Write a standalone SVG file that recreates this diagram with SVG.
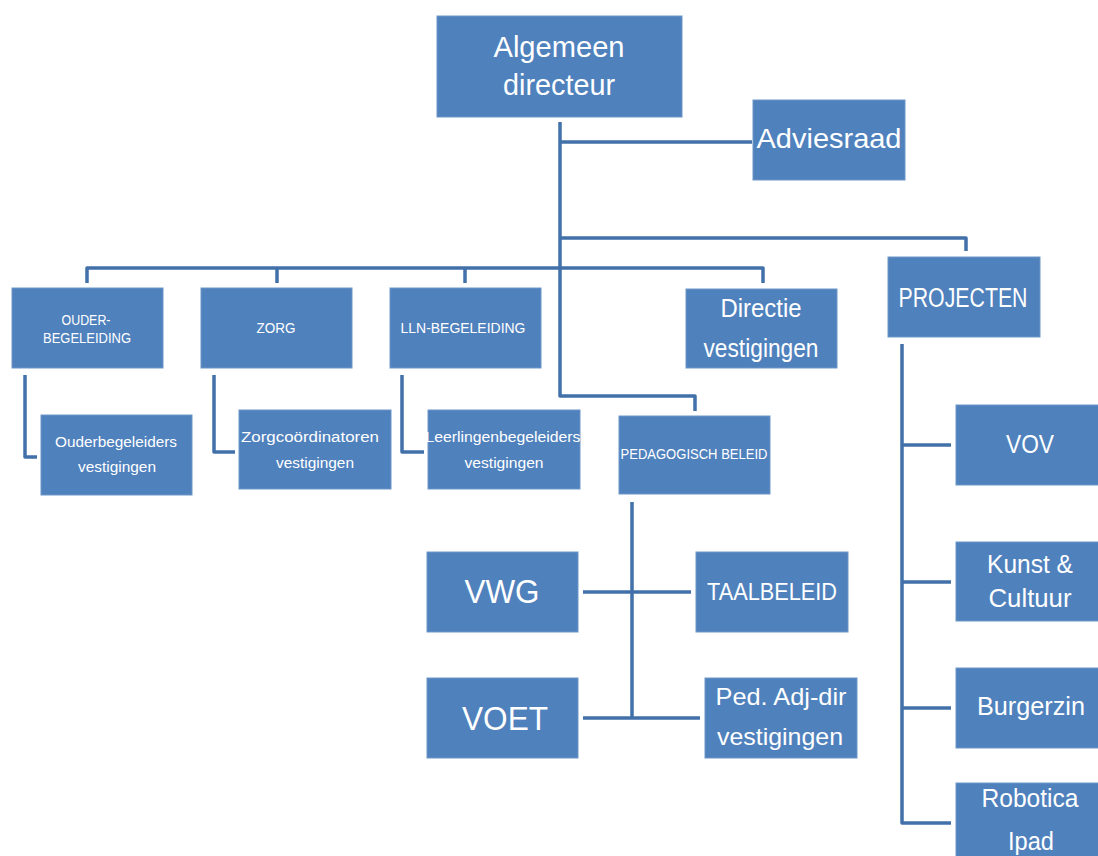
<svg xmlns="http://www.w3.org/2000/svg" width="1098" height="856" viewBox="0 0 1098 856">
<style>
.box{fill:#4f81bd;stroke:#6d95c7;stroke-width:1}
.t{fill:#ffffff;font-family:"Liberation Sans",Arial,sans-serif;text-anchor:middle}
.c{fill:none;stroke:#4271aa;stroke-width:3.5;stroke-linejoin:round}
</style>
<rect width="1098" height="856" fill="#ffffff"/>
<g id="connectors">
<path class="c" d="M560,122 V396 H695 V411"/>
<path class="c" d="M560,142 H752"/>
<path class="c" d="M560,238 H966 V251"/>
<path class="c" d="M87,283 V268 H763 V283"/>
<path class="c" d="M277,268 V283"/>
<path class="c" d="M465,268 V283"/>
<path class="c" d="M25,375 V457 H37"/>
<path class="c" d="M214,375 V452 H235"/>
<path class="c" d="M402,375 V452 H424"/>
<path class="c" d="M632,502 V718"/>
<path class="c" d="M583,592 H691"/>
<path class="c" d="M583,718 H700"/>
<path class="c" d="M902,344 V823 H951"/>
<path class="c" d="M902,445 H951"/>
<path class="c" d="M902,582 H951"/>
<path class="c" d="M902,708 H951"/>
</g>
<g id="algemeen-directeur">
<rect class="box" x="437" y="16" width="245" height="101"/>
<text class="t" x="559" y="57" font-size="29" textLength="131" lengthAdjust="spacingAndGlyphs">Algemeen</text>
<text class="t" x="559" y="95" font-size="29" textLength="112" lengthAdjust="spacingAndGlyphs">directeur</text>
</g>
<g id="adviesraad">
<rect class="box" x="753" y="100" width="152" height="80"/>
<text class="t" x="829" y="148" font-size="28" textLength="145" lengthAdjust="spacingAndGlyphs">Adviesraad</text>
</g>
<g id="ouder-begeleiding">
<rect class="box" x="12" y="288" width="151" height="80"/>
<text class="t" x="86" y="325" font-size="15" textLength="49" lengthAdjust="spacingAndGlyphs">OUDER-</text>
<text class="t" x="87" y="343" font-size="15" textLength="88" lengthAdjust="spacingAndGlyphs">BEGELEIDING</text>
</g>
<g id="zorg">
<rect class="box" x="201" y="288" width="151" height="80"/>
<text class="t" x="276" y="333" font-size="15" textLength="39" lengthAdjust="spacingAndGlyphs">ZORG</text>
</g>
<g id="lln-begeleiding">
<rect class="box" x="390" y="288" width="151" height="80"/>
<text class="t" x="463" y="333" font-size="15" textLength="125" lengthAdjust="spacingAndGlyphs">LLN-BEGELEIDING</text>
</g>
<g id="directie-vestigingen">
<rect class="box" x="686" y="289" width="151" height="79"/>
<text class="t" x="761" y="317" font-size="26" textLength="81" lengthAdjust="spacingAndGlyphs">Directie</text>
<text class="t" x="761" y="357" font-size="26" textLength="115" lengthAdjust="spacingAndGlyphs">vestigingen</text>
</g>
<g id="projecten">
<rect class="box" x="888" y="257" width="152" height="80"/>
<text class="t" x="963" y="307" font-size="27" textLength="129" lengthAdjust="spacingAndGlyphs">PROJECTEN</text>
</g>
<g id="ouderbegeleiders-vestigingen">
<rect class="box" x="41" y="415" width="151" height="80"/>
<text class="t" x="116" y="447" font-size="15" textLength="122" lengthAdjust="spacingAndGlyphs">Ouderbegeleiders</text>
<text class="t" x="117" y="472" font-size="15" textLength="78" lengthAdjust="spacingAndGlyphs">vestigingen</text>
</g>
<g id="zorgcoordinatoren-vestigingen">
<rect class="box" x="239" y="410" width="152" height="79"/>
<text class="t" x="310" y="442" font-size="15.5" textLength="138" lengthAdjust="spacingAndGlyphs">Zorgcoördinatoren</text>
<text class="t" x="315" y="468" font-size="15.5" textLength="78" lengthAdjust="spacingAndGlyphs">vestigingen</text>
</g>
<g id="leerlingenbegeleiders-vestigingen">
<rect class="box" x="428" y="410" width="152" height="79"/>
<text class="t" x="503" y="442" font-size="15.5" textLength="155" lengthAdjust="spacingAndGlyphs">Leerlingenbegeleiders</text>
<text class="t" x="504" y="468" font-size="15.5" textLength="79" lengthAdjust="spacingAndGlyphs">vestigingen</text>
</g>
<g id="pedagogisch-beleid">
<rect class="box" x="619" y="416" width="151" height="78"/>
<text class="t" x="694" y="459" font-size="14" textLength="147" lengthAdjust="spacingAndGlyphs">PEDAGOGISCH BELEID</text>
</g>
<g id="vwg">
<rect class="box" x="427" y="552" width="151" height="80"/>
<text class="t" x="502" y="603" font-size="34" textLength="75" lengthAdjust="spacingAndGlyphs">VWG</text>
</g>
<g id="taalbeleid">
<rect class="box" x="696" y="552" width="152" height="80"/>
<text class="t" x="772" y="600" font-size="24" textLength="130" lengthAdjust="spacingAndGlyphs">TAALBELEID</text>
</g>
<g id="voet">
<rect class="box" x="427" y="678" width="151" height="80"/>
<text class="t" x="505" y="730" font-size="34" textLength="86" lengthAdjust="spacingAndGlyphs">VOET</text>
</g>
<g id="ped-adj-dir-vestigingen">
<rect class="box" x="705" y="678" width="152" height="80"/>
<text class="t" x="781" y="705" font-size="24" textLength="131" lengthAdjust="spacingAndGlyphs">Ped. Adj-dir</text>
<text class="t" x="780" y="745" font-size="24" textLength="126" lengthAdjust="spacingAndGlyphs">vestigingen</text>
</g>
<g id="vov">
<rect class="box" x="956" y="405" width="150" height="80"/>
<text class="t" x="1030" y="453" font-size="25" textLength="48" lengthAdjust="spacingAndGlyphs">VOV</text>
</g>
<g id="kunst-cultuur">
<rect class="box" x="956" y="542" width="150" height="79"/>
<text class="t" x="1030" y="573" font-size="25" textLength="86" lengthAdjust="spacingAndGlyphs">Kunst &amp;</text>
<text class="t" x="1030" y="607" font-size="25" textLength="83" lengthAdjust="spacingAndGlyphs">Cultuur</text>
</g>
<g id="burgerzin">
<rect class="box" x="956" y="668" width="150" height="80"/>
<text class="t" x="1031" y="715" font-size="25" textLength="108" lengthAdjust="spacingAndGlyphs">Burgerzin</text>
</g>
<g id="robotica-ipad">
<rect class="box" x="956" y="783" width="150" height="90"/>
<text class="t" x="1030" y="807" font-size="25" textLength="97" lengthAdjust="spacingAndGlyphs">Robotica</text>
<text class="t" x="1031" y="850" font-size="25" textLength="46" lengthAdjust="spacingAndGlyphs">Ipad</text>
</g>
</svg>
